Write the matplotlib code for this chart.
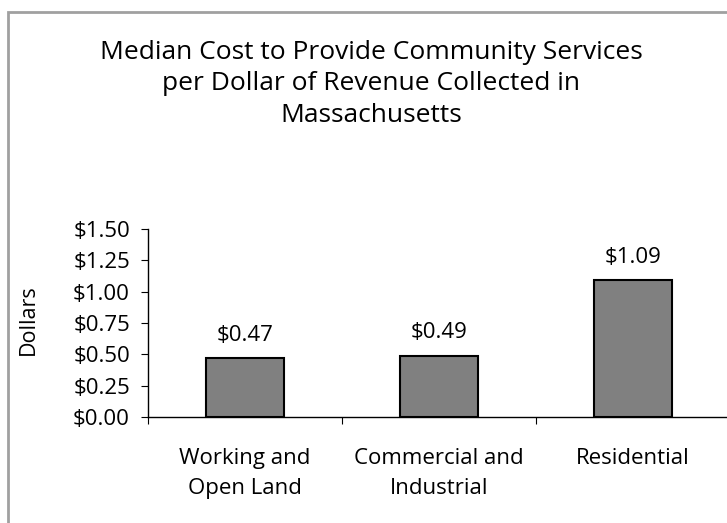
import matplotlib.pyplot as plt
from matplotlib.patches import Rectangle

plt.rcParams['font.family'] = ['Open Sans', 'DejaVu Sans']

categories = ["Working and\nOpen Land", "Commercial and\nIndustrial", "Residential"]
values = [0.47, 0.49, 1.09]
yticks = [0.0, 0.25, 0.5, 0.75, 1.0, 1.25, 1.5]

W, H = 727, 523
fig = plt.figure(figsize=(W / 100, H / 100), dpi=100)

# grey outer frame (right and bottom edges are cut off in the original)
fig.patches.append(Rectangle((8 / W, -0.2), 1.2, 1.2 - 12 / H, transform=fig.transFigure,
                             fill=False, edgecolor='#a0a0a0', linewidth=2))

ax = fig.add_axes([148 / W, 1 - 417 / H, (730 - 148) / W, (417 - 229) / H])
x = range(len(values))
ax.bar(x, values, width=0.4, color='#808080', edgecolor='black', linewidth=1.5, zorder=3)
for xi, v in zip(x, values):
    ax.annotate(f"${v:.2f}", (xi, v), xytext=(0, 9), textcoords='offset points',
                ha='center', va='bottom', fontsize=16)

ax.set_xlim(-0.5, 2.5)
ax.set_ylim(0, 1.5)
ax.set_yticks(yticks)
ax.set_yticklabels([f"${t:.2f}" for t in yticks], fontsize=16)
ax.set_xticks([-0.5, 0.5, 1.5, 2.5])
ax.set_xticklabels([])
ax.set_xticks(list(x), minor=True)
ax.set_xticklabels(categories, minor=True, fontsize=16, linespacing=1.6)
ax.tick_params(axis='x', which='minor', length=0, pad=22)
ax.tick_params(axis='x', which='major', length=5, direction='out')
ax.tick_params(axis='y', length=5, direction='out', pad=8)
for s in ['top', 'right']:
    ax.spines[s].set_visible(False)
ax.spines['left'].set_linewidth(1)
ax.spines['bottom'].set_linewidth(1)

fig.text(28.5 / W, 1 - 320 / H, "Dollars", rotation=90, ha='center', va='center', fontsize=15.5)

fig.text(371 / W, 1 - 84 / H,
         "Median Cost to Provide Community Services\nper Dollar of Revenue Collected in\nMassachusetts",
         ha='center', va='center', fontsize=19, linespacing=1.35)

fig.savefig("out.png", dpi=100)
